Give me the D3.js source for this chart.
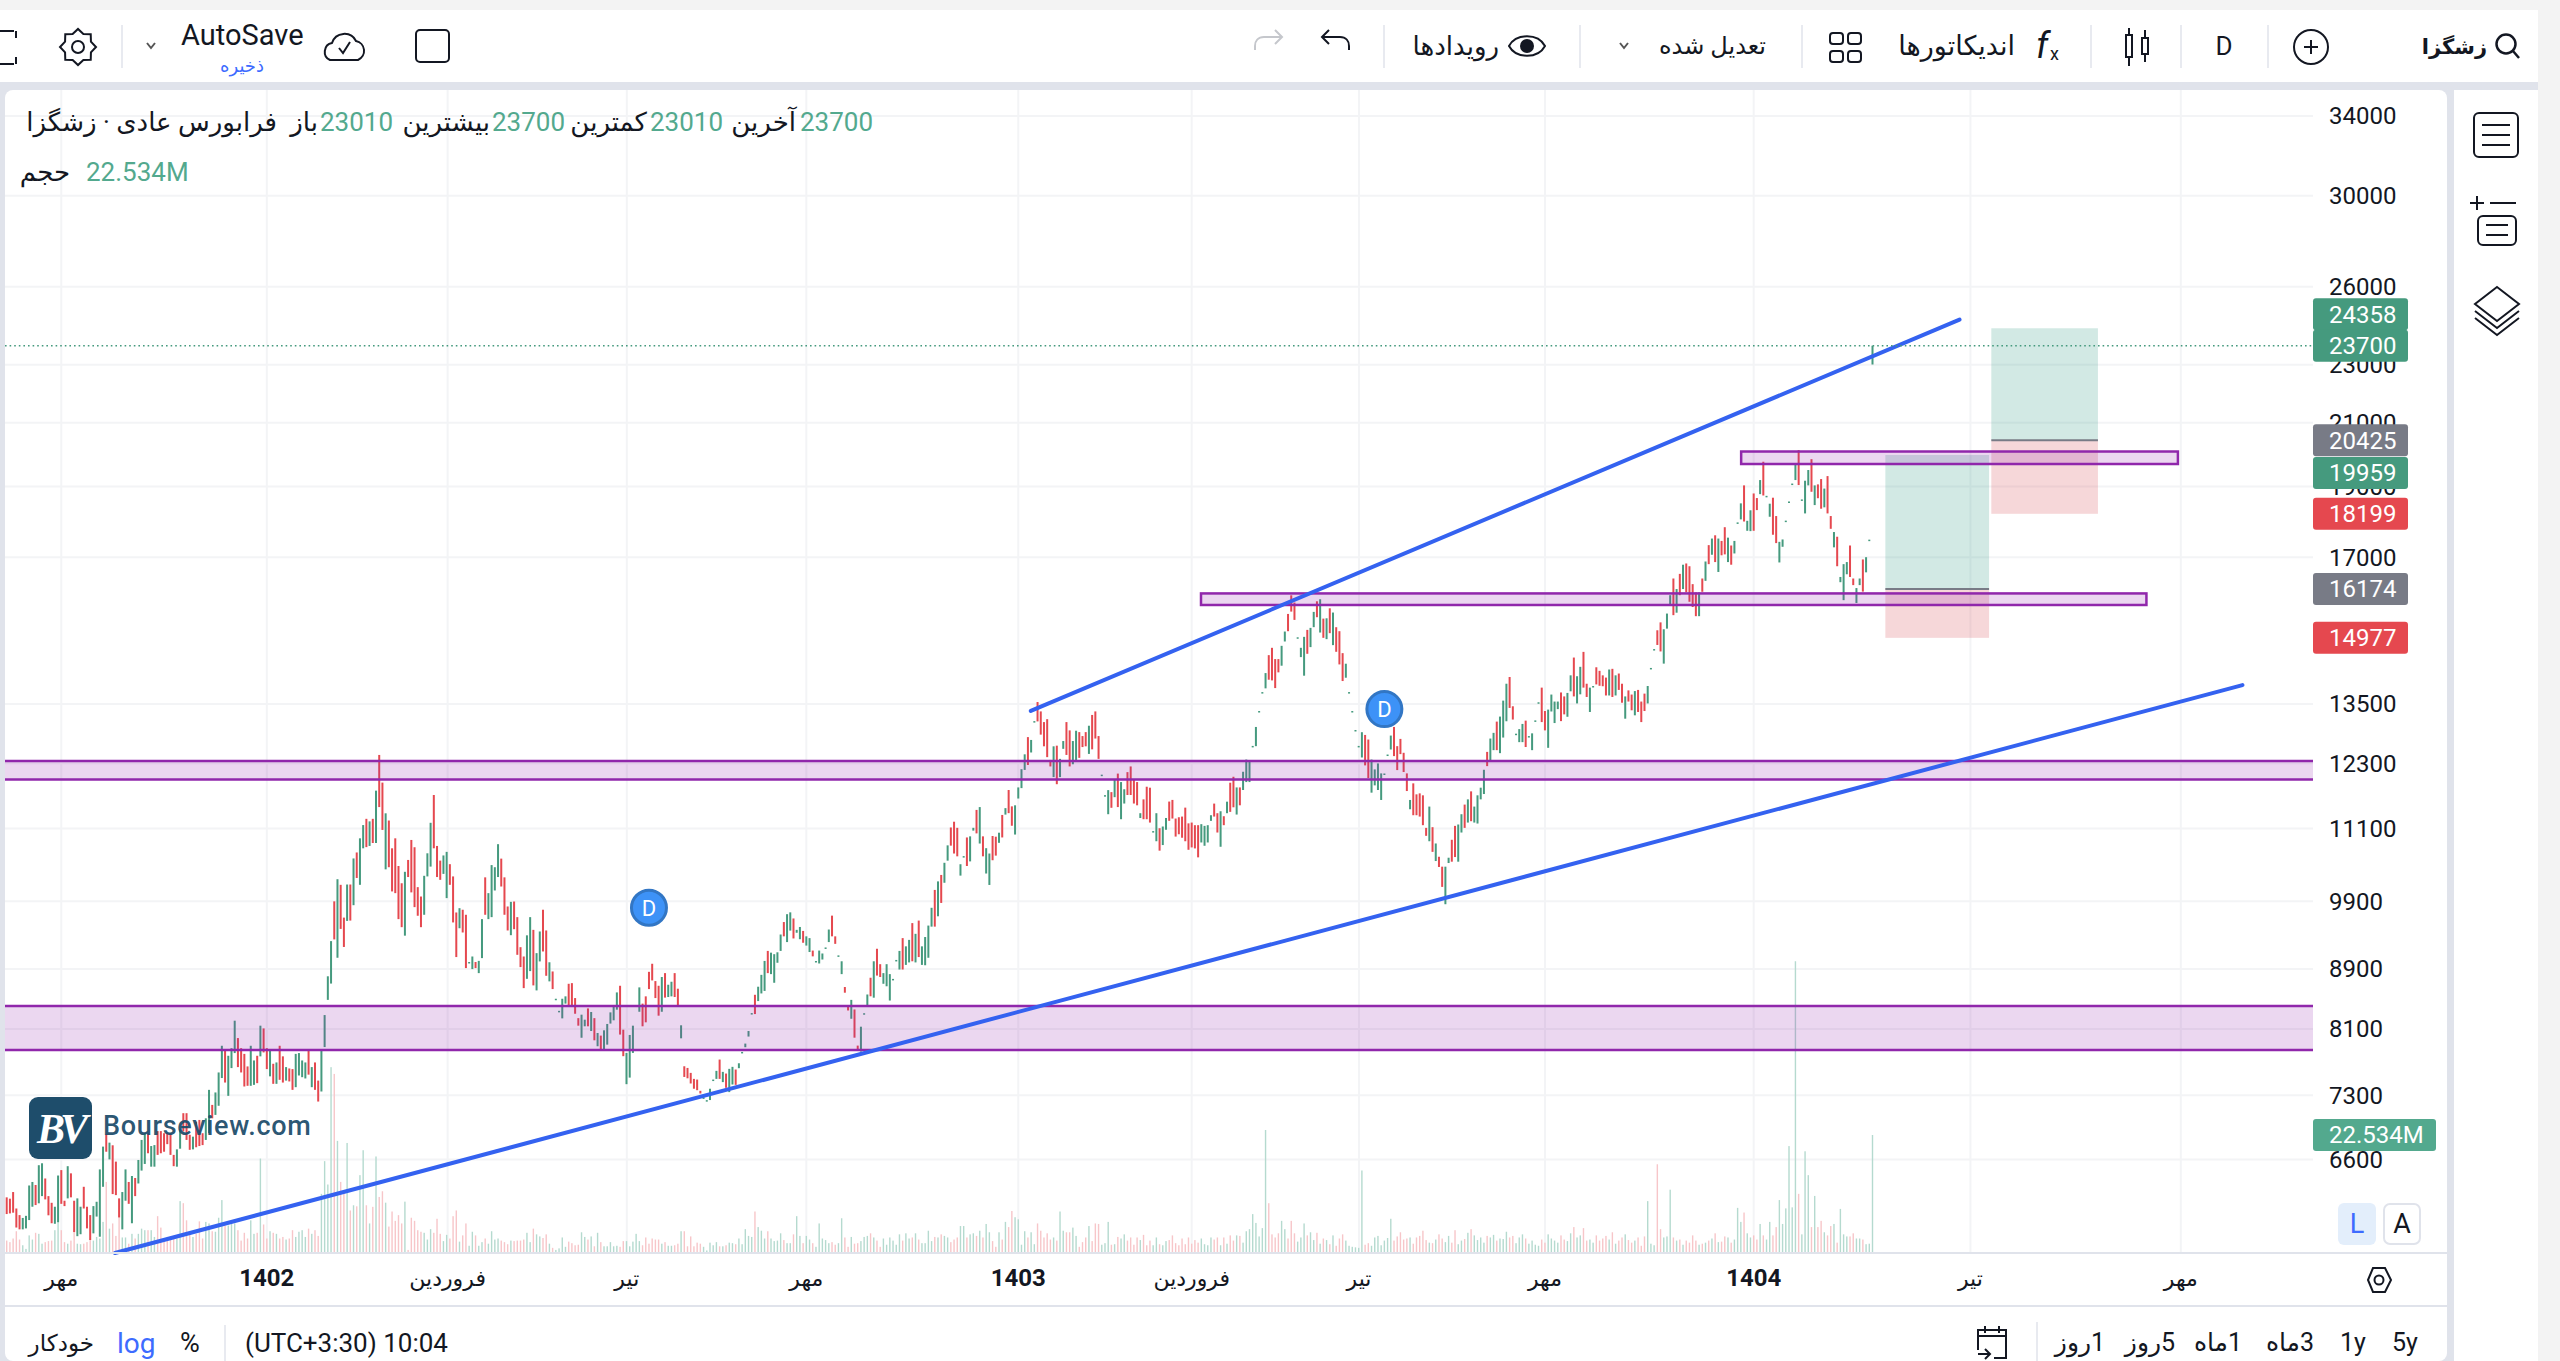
<!DOCTYPE html>
<html lang="fa">
<head>
<meta charset="utf-8">
<title>زشگزا</title>
<script src="https://cdn.jsdelivr.net/npm/d3@7"></script>
<style>
html, body { margin: 0; padding: 0; background: #f3f3f3; overflow: hidden; }
svg { display: block; font-family: Roboto, "DejaVu Sans", sans-serif; }
</style>
</head>
<body>
<svg id="chart" width="2560" height="1361"></svg>
<script>
// daily candles (price in rials, log axis)
const candleHigh = [
  6218,6205,6270,6110,6047,6020,6040,6335,6370,6340,
  6540,6560,6405,6230,6165,6127,6435,6490,6185,6530,
  6457,6185,6208,6127,6322,6127,6047,6133,6175,6497,
  6734,6870,6776,6748,6577,6208,6270,6497,6370,6430,
  6410,6594,6805,6877,6877,6740,6750,6900,6900,6877,
  6877,6877,6647,6705,6920,7097,7097,6860,6840,7004,
  7022,6877,7040,7362,7190,7332,7566,7890,7840,7767,
  7860,8207,7986,7860,7790,7638,7890,7710,7767,8143,
  8108,7860,7832,7670,7686,7890,7760,7630,7614,7606,
  7790,7800,7710,7686,7832,7630,7686,7470,7832,8280,
  8800,9300,9900,10250,10160,9650,10165,10165,10590,10690,
  10930,11160,11270,11225,11270,11780,12460,
  11930,11368,11240,10760,10930,10465,10185,10370,10565,10902,
  10778,10123,9975,10305,10676,11200,11700,10800,10554,10640,
  10700,10495,10295,9728,9794,9770,9693,9000,9078,9000,
  9016,9627,10280,10028,10480,10445,10830,10587,10280,9820,
  9892,9897,9657,9212,9078,9385,9657,9466,9126,9442,
  9770,9457,8996,8867,8495,8335,8495,8527,8697,8706,
  8504,8240,8285,8220,8367,8320,8240,8050,8017,8084,
  8165,8315,8412,8580,8670,8092,7802,8025,8143,8408,
  8648,8430,8527,8862,8975,8734,8670,8790,8844,8684,
  8725,8844,8630,8148,7640,7620,7561,7490,7482,7351,
  7275,7244,7375,7482,7585,7721,7573,7553,7609,7633,
  7601,7676,7814,7917,8075,8306,8548,8657,
  8820,9015,9158,9133,9111,9138,9397,9583,9702,9730,
  9637,9466,9509,9450,9370,9344,9163,9014,9163,9121,
  9208,9471,9680,9370,9094,9010,8653,8386,8480,8353,
  7892,8130,8304,8552,8780,9010,9189,8969,8844,8969,
  8830,8764,9029,9158,9344,9224,9318,9567,9407,9605,
  9224,9360,9530,9800,10079,10215,10319,10518,10810,11118,
  11219,11112,10494,10629,10945,10964,11112,11429,11480,10964,
  10762,10672,10970,10958,11027,11339,11461,11792,11493,11512,
  11840,12184,12472,12814,12757,13140,13540,13342,13120,13180,
  12363,12630,12643,12383,12735,13120,12950,12735,12943,12915,
  12835,12915,13045,13268,13342,12835,12080,11697,11790,11753,
  11994,12100,11940,11806,12128,12237,11994,11940,
  11370,11620,11853,11835,11055,11370,11105,11135,11285,11580,
  11610,11275,11298,11310,11470,11190,11204,11158,11158,11176,
  11146,11158,11334,11543,11370,11405,11316,11578,11928,12040,
  11840,11840,12135,12370,12340,12638,13020,13350,13753,14170,
  14575,14744,14485,14485,14790,15126,15550,16012,15830,14990,
  14744,15000,15165,15213,15600,15862,15912,15436,15444,15688,
  15584,15229,15134,14621,14380,13753,13350,12958,12638,12913,
  12858,12765,12370,12180,12295,12104,12102,12468,12845,13020,
  12633,12778,12502,12104,11609,11916,11712,11730,11694,11111,
  11489,11123,10842,10618,10454,10454,10602,10905,11146,11170,
  11352,11525,11620,11767,11489,11694,11835,12173,12520,12785,
  12900,13130,13234,13570,13935,14083,13450,12883,
  12976,13082,13150,12835,12890,13155,13535,13850,13350,13380,
  13700,13550,13550,13745,13660,13735,14120,14520,14100,14310,
  14650,13935,13850,13885,14300,14220,14120,14070,14250,14265,
  14120,14160,13935,13660,13790,13700,13775,13800,13550,13720,
  13885,14285,14715,15156,15345,15180,15559,16015,16440,16170,
  16560,16800,16833,16760,16295,16085,16085,16440,16885,17325,
  17505,17595,17505,17440,17820,17530,17315,17440,17955,18500,
  19030,18000,18300,18790,18655,19190,19750,18720,18490,18665,
  18135,17415,17480,18005,18555,19085,19670,20115,18615,19170,
  19495,19830,19030,19060,19220,18935,19310,18135,17685,17555,
  16480,16815,16870,17315,16440,16195,16440,16940,17000,17475,
  23700
];
const candleLow = [
  6057,6063,6070,5930,5913,5913,5922,6000,6127,6143,
  6160,6230,6198,6045,5970,5965,5980,6155,6133,6208,
  6218,5888,5850,5868,6110,5922,5815,5876,6033,5845,
  6322,6680,6600,6250,6240,6025,5913,6185,6155,5970,
  6230,6355,6485,6553,6664,6525,6525,6647,6664,6680,
  6760,6647,6530,6525,6712,6895,6805,6700,6705,6727,
  6740,6750,6805,6877,7040,7078,7180,7500,7447,7293,
  7618,7800,7630,7566,7401,7409,7409,7420,7440,7760,
  7808,7606,7520,7432,7432,7479,7447,7470,7460,7362,
  7393,7530,7510,7495,7540,7393,7362,7228,7343,7874,
  8480,8700,9325,9060,9480,9215,9600,9605,9840,10270,
  10160,10760,10780,10800,10850,10850,11480,
  11075,10410,10445,10055,10028,9627,9506,9380,10285,10040,
  9810,9678,9506,9693,10295,10455,10760,10285,10240,10336,
  9950,10160,9577,9070,9490,9427,8914,8990,8900,8914,
  8844,9055,9693,9627,9657,10070,10285,10133,9693,9457,
  9387,9476,9102,8928,8638,8765,8872,8675,8607,9008,
  9150,8807,8730,8625,8485,8325,8237,8430,8412,8412,
  8297,8143,7990,8135,8135,8075,7958,7884,7843,7843,
  7904,8170,8212,8350,8030,7762,7428,7505,7802,8398,
  8323,8135,8186,8625,8743,8504,8272,8323,8510,8518,
  8527,8518,8412,7983,7513,7497,7436,7375,7358,7320,
  7267,7236,7245,7474,7490,7490,7452,7386,7336,7424,
  7420,7617,7806,7872,8005,8298,8293,8464,
  8566,8600,8844,8830,8711,8989,9158,9370,9286,9455,
  9339,9423,9328,9276,9235,9142,9080,9006,8979,9035,
  9200,9286,9370,9260,9086,8830,8576,8340,8232,7991,
  7831,7818,8296,8386,8528,8509,8810,8790,8697,8663,
  8471,8756,9021,8894,8894,8959,8994,9010,8994,9070,
  8959,8954,9060,9514,9514,9670,9875,10193,10553,10805,
  10672,10625,10308,10621,10465,10541,11063,11015,10841,10625,
  10342,10158,10560,10637,10853,10945,11345,11371,11148,10995,
  11635,11827,12170,12265,12508,13128,13134,12864,12630,12417,
  12237,12034,11900,12034,12580,12460,12237,12279,12335,12403,
  12615,12630,12480,12570,12785,12383,12068,11685,11352,11467,
  11660,11480,11263,11544,11700,11700,11544,11512,
  11285,11263,11263,11204,11045,10880,10720,10815,11078,11235,
  11275,10960,11000,10940,10880,10735,10775,10758,10608,10859,
  10803,10859,11234,11310,11030,10786,11158,11370,11394,11476,
  11346,11512,11792,11940,11940,12628,12633,13340,13743,13834,
  14023,14008,13840,14186,14335,14891,15134,15607,15405,14980,
  14530,14112,14606,14760,15230,15470,15102,14977,14946,15087,
  14806,14652,14364,13994,14067,13743,13340,12948,12628,12410,
  12257,12015,11743,11878,11792,11609,12092,12458,12567,12437,
  12167,12476,12130,11773,11441,11334,11334,11310,11158,10973,
  10880,10700,10547,10449,10127,9855,10514,10536,10613,10536,
  11030,11111,11204,11228,11204,11187,11620,11718,12243,12358,
  12554,12554,12495,12805,13137,13415,13172,12873,
  12713,12713,12616,12825,12554,13145,13525,13120,12950,12600,
  13340,13100,13390,13140,13280,13230,13770,13660,13510,13705,
  13850,13648,13330,13875,13920,13890,13880,13680,13680,13648,
  13680,13800,13525,13190,13550,13365,13260,13330,13120,13350,
  13510,14275,14705,14810,14660,14382,15195,15755,15520,15580,
  16015,16170,16090,15850,15720,15495,15495,16100,16380,16815,
  17065,16870,16610,17050,17075,16870,16800,17100,17945,18040,
  17980,17720,17710,17720,18305,18770,18730,18710,18115,17610,
  17380,16860,17280,17995,18545,19075,19190,19040,18605,18210,
  19030,18840,18450,18650,18345,18385,18210,17775,17265,16760,
  16345,15890,16550,16480,16270,15820,16270,16105,16600,17465,
  23010
];
// 1 = closed up (green), 0 = closed down (red)
const candleUp = [
  0,0,0,0,0,1,1,1,1,0, 1,1,0,0,0,1,1,0,0,1, 0,0,1,1,0,0,0,1,1,1,
  1,0,1,0,0,0,1,1,0,1, 0,1,1,1,0,1,1,0,0,0, 0,0,0,1,1,0,0,0,1,0,
  0,0,1,1,0,1,1,1,0,1, 1,1,0,0,0,0,1,1,0,1, 0,0,1,0,1,0,0,1,0,0,
  1,1,1,1,0,1,0,0,1,1, 1,1,0,1,0,0,1,0,1,0, 1,1,0,1,0,1,0,
  0,1,0,0,0,0,0,1,0,0, 0,0,0,1,1,1,0,0,0,1, 1,0,0,0,1,0,0,1,1,0,
  1,1,0,1,1,1,1,0,0,0, 1,0,0,0,0,1,1,0,1,1, 0,0,1,0,1,1,1,1,0,0,
  0,0,1,1,0,1,0,1,0,1, 1,1,1,1,0,0,1,1,1,1, 1,0,0,0,0,0,0,1,0,1,
  1,0,0,1,0,0,0,0,0,0, 1,1,1,1,1,0,1,0,1,1, 0,1,1,1,1,1,0,1,
  1,1,0,1,1,1,1,0,1,1, 0,1,1,0,1,1,0,1,1,1, 1,1,0,0,1,1,0,0,1,0,
  0,1,1,1,0,1,0,0,1,1, 1,1,1,1,0,1,1,0,1,0, 1,1,1,1,0,1,0,1,1,0,
  0,0,1,1,0,1,1,0,1,0, 1,1,0,0,1,0,1,0,0,1, 1,1,1,0,1,1,0,0,0,0,
  0,1,0,1,1,0,0,1,1,0, 0,0,1,0,0,0,1,1,1,0, 1,0,1,1,0,0,0,0,
  1,0,0,0,1,1,0,1,1,0, 0,0,0,0,0,0,0,0,0,1, 1,1,1,0,0,1,0,1,0,0,
  1,0,1,1,1,1,1,1,1,1, 0,0,0,0,1,1,0,0,0,1, 1,1,0,1,1,0,1,0,1,0,
  1,0,0,0,1,1,1,1,1,1, 0,0,1,1,1,1,1,1,1,0, 0,0,0,0,1,0,0,0,0,0,
  1,0,1,0,0,1,1,0,0,1, 1,0,1,0,1,1,1,1,0,1, 1,0,1,1,1,0,0,1,
  1,1,0,1,1,1,1,0,0,1, 1,1,1,0,0,1,1,0,1,1, 0,0,1,1,0,0,0,0,1,0,
  1,0,0,1,0,0,1,0,0,0, 1,1,1,0,0,1,1,1,0,1, 0,1,0,0,0,0,1,0,1,0,
  1,0,1,0,0,1,0,1,1,1, 0,1,1,0,0,1,0,1,1,0, 0,1,1,1,1,1,1,0,1,1,
  1,0,1,0,0,1,0,0,1,0, 1,1,1,0,0,1,1,0,1,1, 1
];
// volume in millions
const volumeM = [
  2.2,1.9,2.6,4.0,2.4,1.3,.6,3.2,2.4,3.7,
  3.5,1.6,1.9,2.1,2.2,4.2,6.1,4.2,1.9,1.6,
  2.2,4.5,1.6,1.5,1.6,1.9,2.6,2.2,2.9,2.6,
  5.8,13.5,4.5,5.5,3.1,7.1,2.8,2.8,1.6,3.5,
  2.6,3.5,4.5,4.2,4.2,4.2,2.9,6.9,4.7,2.2,
  2.9,2.9,2.6,2.6,9.8,9.4,6.1,3.5,2.9,3.5,
  5.9,2.6,5.8,5.5,4.0,3.9,6.6,10,5.1,5.1,
  5.5,5.5,4.2,2.2,3.7,2.6,6.1,3.5,3.7,18,
  5.3,2.6,4.0,3.7,3.5,2.6,2.9,2.4,2.6,4.2,
  2.9,3.9,4.2,2.9,4.5,3.5,4.2,3.1,11.2,17.5,
  13,35.6,34.3,21.4,13.5,11.6,21,8,9,8.8,
  14.8,19.6,9,5.5,8.7,18.4,10.6,
  11.7,9.5,4.9,7.8,6,7.1,5.5,9.7,.4,6.6,
  6,4.2,3.9,3.7,2.4,4.4,3.7,6.4,3.5,2.1,
  3.3,2.6,6.9,8,2,3.2,5.5,1.2,3.9,3.2,
  1.2,1.9,2.6,1.6,4,2.4,2.6,2.2,1.9,1.5,
  2.2,2.1,2.2,2.2,2.4,3.7,1.9,4.5,3.4,3,
  2.7,3.4,1.6,.8,.4,.7,2.8,1,2,1.7,
  1.3,1.4,3.8,2.9,2.4,3,1.1,3.7,1.9,1.1,
  1.1,1.9,1.1,1.2,1,2.1,2.1,1.1,2,3.5,
  2.1,1.3,2.8,1.6,2.6,2.4,2.4,1.6,1.9,1.2,
  1.2,1.3,1.6,4,4,1.1,3,1.1,1.8,1.6,
  1,.3,1.8,1.3,1.9,1.1,1.1,1.3,1.8,1.7,
  1.5,2.6,1.5,4.4,3.1,2.9,7.8,4.8,
  4.1,2.6,4,2.6,2.1,2.2,3.6,2.3,1.7,1.7,
  3.4,6.9,3.1,1.7,3.1,2.4,1.7,1,5.5,2.6,
  2.3,1.7,1.9,1.4,1.7,6.5,2.8,1,2.9,1.6,
  1.7,2.1,2.9,3.1,3.6,2.8,2.2,1,2.6,1.4,
  2.8,2.2,1.4,3.4,2.2,3.6,2.6,2.8,3.6,2.4,
  1.7,1.7,4.1,2.1,2.9,2.8,3.4,3.1,2.8,1.9,
  2.4,2.8,5,5,2.8,3.4,3.6,3.1,4.1,2.8,
  5.4,3.8,2.1,1,3.8,2.4,5.8,4.8,7.9,6.7,
  6.3,1.4,4,2.8,3.8,1.5,5.5,4.1,2.8,3.6,
  2.4,2.8,2.2,7.8,4.1,3.8,3.8,4.7,3.1,1,
  1.9,2.8,5,2.1,5.5,5.4,1.4,1.7,5.8,1.4,
  1.5,2.9,2.6,3.4,2.2,2.8,1.4,2.8,
  2.3,3.3,1.3,2.2,1.3,2.8,1.5,1.3,2.1,2.3,
  3.2,1.7,1.3,2.6,1.5,2.8,1.6,2.3,1.8,2.6,
  1.5,1.3,2.8,2.4,2.8,1.3,2.8,1.6,3.2,2.2,
  3.2,3.1,1.8,4,4.4,7.3,5.6,3,4.6,23.5,
  9.4,3.4,2.8,3.6,6,4.4,2.6,6,3.6,2,
  2.8,5.5,3.2,3.8,2.3,3.7,1.6,2.6,2.3,1.5,
  3.2,1.2,2.6,3.4,2.2,1.2,1,.9,.8,15.7,
  1.4,1.7,1.2,2.8,3.1,1.3,2.2,2.7,6.4,2.2,
  3,3.8,2.4,2.6,2.8,1.6,2.8,3.1,4.1,2.3,
  1.8,1.7,2.4,3.4,2.6,1.9,3.1,1.8,4.2,1.5,
  2.2,2.5,3.7,4.4,3.2,2.3,2.8,1.8,3.1,2.8,
  3.3,2.2,2.6,2.5,3.9,2.8,3.1,1.7,2.8,
  3.4,2.6,1.6,2.2,1.4,1.2,2.4,1.8,3.4,2.6,
  2.2,1.8,3.2,2.4,2.1,3.6,4.8,2.8,3.2,4.6,
  2.2,2.4,1.8,3.2,2.2,2.6,3.1,2.4,3.8,1.6,
  2.2,2.8,3.4,2.3,1.8,2.2,2.8,1.2,3,9.8,
  1.6,1.3,16.9,4.4,2.8,3,12,2.8,2.2,2.4,
  1.4,2.2,1.8,3.2,2.2,1.4,1.6,1.8,2.2,2.6,
  3.6,1.9,2,3,2.8,1.8,2.4,8.5,5.8,7.6,
  3.6,2.8,3.2,2.4,5.4,3.2,2.4,5.8,3.2,4.8,
  10,5.4,8.4,20.4,8.6,56,11.2,3.4,19.4,14.8,
  4.8,10.8,4.8,6,3.8,3.2,5,5.4,1.8,8.3,
  3.4,3,3,3.6,2.6,2.6,2.4,1.5,1.6,22.534
];
const priceTicks = [34000,30000,26000,23000,21000,19000,17000,13500,12300,11100,9900,8900,8100,7300,6600];
const timeTickBars = [17,81,137.3,193.1,249,315,369,421.1,479,544,611.5,677];
const timeTickLabels = ["مهر","1402","فروردین","تیر","مهر","1403","فروردین","تیر","مهر","1404","تیر","مهر"];
const eventBars = [200,429];
const eventPrices = [9800,13390];
const zoneBarsFrom = [null,null,371.9,540.1];
const zoneBarsTo = [null,null,666.3,676.1];
const zoneTops = [12340,8398,16059,20070];
const zoneBottoms = [11990,7838,15770,19680];
const trendBars = [[318.9,608.1],[33.7,696.2]];
const trendPrices = [[13352,24692],[5697,13905]];
const positionBarsFrom = [585,618];
const positionBarsTo = [617.3,651.2];
const positionTargets = [19959,24358];
const positionEntries = [16174,20425];
const positionStops = [14977,18199];
const lastPrice = 23700;
const lastVolume = 22.534;

const GREEN = "#459a7e", RED = "#e5484f", GRAY = "#787b86", INK = "#131722";
const BLUE = "#3462f0", EDGE = "#e0e3eb", GRID = "#f3f4f6", PURPLE = "#9027ab";
const paneRight = 2313, paneBottom = 1253, paneTop = 90, paneLeft = 5;

const svg = d3.select("#chart");

const candles = candleHigh.map((h, i) => ({
    i, h, l: candleLow[i], up: candleUp[i], v: volumeM[i]
}));

const x = d3.scaleLinear().domain([0, 581]).range([6.7, 1872.5]);
const y = d3.scaleLog().domain([34000, 6600]).range([116, 1159.4]);
const yVol = d3.scaleLinear().domain([0, lastVolume]).range([1252, 1135]);

// page frame
svg.append("rect").attr("width", 2560).attr("height", 1361).attr("fill", "#f3f3f3");
svg.append("rect").attr("x", 0).attr("y", 10).attr("width", 2538).attr("height", 1351).attr("fill", EDGE);
svg.append("rect").attr("x", 0).attr("y", 10).attr("width", 2538).attr("height", 72).attr("fill", "#fff");
svg.append("rect").attr("x", paneLeft).attr("y", paneTop).attr("width", 2442).attr("height", 1271).attr("rx", 8).attr("fill", "#fff");
svg.append("rect").attr("x", 2454).attr("y", paneTop).attr("width", 84).attr("height", 1271).attr("fill", "#fff");

// grid
svg.append("g").selectAll("line").data(priceTicks).join("line")
    .attr("x1", paneLeft).attr("x2", paneRight)
    .attr("y1", d => y(d)).attr("y2", d => y(d))
    .attr("stroke", GRID).attr("stroke-width", 2);
svg.append("g").selectAll("line").data(timeTickBars).join("line")
    .attr("x1", d => x(d)).attr("x2", d => x(d))
    .attr("y1", paneTop).attr("y2", paneBottom)
    .attr("stroke", GRID).attr("stroke-width", 2);

// volume
svg.append("g").selectAll("rect").data(candles).join("rect")
    .attr("x", d => x(d.i) - 0.7).attr("width", 1.4)
    .attr("y", d => yVol(d.v)).attr("height", d => yVol(0) - yVol(d.v))
    .attr("fill", d => d.up ? "#b5dacf" : "#f7c6c9");

// position boxes
positionTargets.forEach((t, k) => {
    const bx = x(positionBarsFrom[k]), bw = x(positionBarsTo[k]) - bx;
    svg.append("rect").attr("x", bx).attr("width", bw).attr("y", y(t))
        .attr("height", y(positionEntries[k]) - y(t)).attr("fill", "#3d9f8c").attr("fill-opacity", 0.23);
    svg.append("rect").attr("x", bx).attr("width", bw).attr("y", y(positionEntries[k]))
        .attr("height", y(positionStops[k]) - y(positionEntries[k])).attr("fill", "#d9505a").attr("fill-opacity", 0.23);
    svg.append("line").attr("x1", bx).attr("x2", bx + bw)
        .attr("y1", y(positionEntries[k])).attr("y2", y(positionEntries[k]))
        .attr("stroke", GRAY).attr("stroke-width", 2);
});

// candles, bodies fill almost the whole range at this zoom
svg.append("g").selectAll("rect").data(candles).join("rect")
    .attr("x", d => x(d.i) - 1).attr("width", 2)
    .attr("y", d => y(d.h))
    .attr("height", d => Math.max(1.5, y(d.l) - y(d.h)))
    .attr("fill", d => d.up ? GREEN : RED);

// supply / demand zones
zoneTops.forEach((t, k) => {
    const x0 = zoneBarsFrom[k] === null ? paneLeft : x(zoneBarsFrom[k]);
    const x1 = zoneBarsTo[k] === null ? paneRight : x(zoneBarsTo[k]);
    svg.append("rect").attr("x", x0).attr("width", x1 - x0)
        .attr("y", y(t)).attr("height", y(zoneBottoms[k]) - y(t))
        .attr("fill", "rgba(142,36,170,.18)");
    if (zoneBarsFrom[k] === null) {
        [t, zoneBottoms[k]].forEach(p => {
            svg.append("line").attr("x1", x0).attr("x2", x1).attr("y1", y(p)).attr("y2", y(p))
                .attr("stroke", PURPLE).attr("stroke-width", 2.5);
        });
    } else {
        svg.append("rect").attr("x", x0).attr("width", x1 - x0)
            .attr("y", y(t)).attr("height", y(zoneBottoms[k]) - y(t))
            .attr("fill", "none").attr("stroke", PURPLE).attr("stroke-width", 2.5);
    }
});

// trend lines
trendBars.forEach((b, k) => {
    svg.append("line")
        .attr("x1", x(b[0])).attr("x2", x(b[1]))
        .attr("y1", y(trendPrices[k][0])).attr("y2", y(trendPrices[k][1]))
        .attr("stroke", BLUE).attr("stroke-width", 4).attr("stroke-linecap", "round");
});

// last price dotted
svg.append("line").attr("x1", paneLeft).attr("x2", paneRight)
    .attr("y1", y(lastPrice)).attr("y2", y(lastPrice))
    .attr("stroke", GREEN).attr("stroke-width", 1.6).attr("stroke-dasharray", "1.6 3");

// dividend markers
const markers = svg.append("g").selectAll("g").data(eventBars).join("g")
    .attr("transform", (d, i) => `translate(${x(d)},${y(eventPrices[i])})`);
markers.append("circle").attr("r", 17.5).attr("fill", "#3d92f7").attr("stroke", "#3276c4").attr("stroke-width", 3);
markers.append("text").text("D").attr("text-anchor", "middle").attr("dy", 8)
    .attr("font-size", 22).attr("fill", "#fff");

// logo
const logo = svg.append("g");
logo.append("rect").attr("x", 29).attr("y", 1097).attr("width", 63).attr("height", 62).attr("rx", 9).attr("fill", "#1e4d6b");
logo.append("text").text("BV").attr("x", 60).attr("y", 1143).attr("text-anchor", "middle")
    .attr("font-family", "'Liberation Serif', serif")
    .attr("font-size", 42).attr("font-weight", 700).attr("font-style", "italic")
    .attr("letter-spacing", -5).attr("fill", "#fff");
logo.append("text").text("Bourseview.com").attr("x", 103).attr("y", 1135)
    .attr("font-size", 27).attr("font-weight", 500).attr("letter-spacing", 0.7).attr("fill", "#1e4d6b").attr("fill-opacity", 0.95);

function label(s, px, py, size, color, anchor, weight) {
    return svg.append("text").text(s).attr("x", px).attr("y", py)
        .attr("dy", "0.35em").attr("font-size", size).attr("fill", color || INK)
        .attr("text-anchor", anchor || "start").attr("font-weight", weight || 400);
}

// price axis labels and tags
svg.append("g").selectAll("text").data(priceTicks).join("text")
    .text(d => d).attr("x", 2329).attr("y", d => y(d)).attr("dy", "0.35em")
    .attr("font-size", 24).attr("fill", INK);

const priceTags = [24358, 23700, 20425, 19959, 18199, 16174, 14977];
const tagColors = [GREEN, GREEN, GRAY, GREEN, RED, GRAY, RED];
const tagNudge = {24358: -14, 19959: 18};
priceTags.forEach((p, k) => {
    const ty = y(p) + (tagNudge[p] || 0);
    svg.append("rect").attr("x", paneRight).attr("y", ty - 16).attr("width", 95).attr("height", 32)
        .attr("rx", 3).attr("fill", tagColors[k]);
    label(p, 2329, ty, 24, "#fff");
});
svg.append("rect").attr("x", paneRight).attr("y", yVol(lastVolume) - 16).attr("width", 123).attr("height", 32)
    .attr("rx", 3).attr("fill", "#53a98e");
label(lastVolume + "M", 2329, yVol(lastVolume), 24, "#fff");

// L / A
svg.append("rect").attr("x", 2338).attr("y", 1203).attr("width", 38).attr("height", 42).attr("rx", 6).attr("fill", "#e3eefb");
label("L", 2357, 1224, 27, "#3d6bff", "middle");
svg.append("rect").attr("x", 2384).attr("y", 1204).attr("width", 36).attr("height", 40).attr("rx", 6).attr("fill", "#fff").attr("stroke", EDGE).attr("stroke-width", 2);
label("A", 2402, 1224, 27, INK, "middle");

// time axis
svg.append("line").attr("x1", paneLeft).attr("x2", 2447).attr("y1", paneBottom).attr("y2", paneBottom).attr("stroke", EDGE).attr("stroke-width", 2);
svg.append("line").attr("x1", paneLeft).attr("x2", 2447).attr("y1", 1306).attr("y2", 1306).attr("stroke", EDGE).attr("stroke-width", 2);
svg.append("g").selectAll("text").data(timeTickBars).join("text")
    .text((d, i) => timeTickLabels[i]).attr("x", d => x(d)).attr("y", 1278).attr("dy", "0.35em")
    .attr("text-anchor", "middle").attr("font-size", (d, i) => /^\d+$/.test(timeTickLabels[i]) ? 24 : 22)
    .attr("font-weight", (d, i) => /^\d+$/.test(timeTickLabels[i]) ? 700 : 400)
    .attr("fill", INK);

// legend lines
const headerPieces = [
    ["23700", 800, GREEN, "start"], ["آخرین", 796, INK, "end"],
    ["23010", 650, GREEN, "start"], ["کمترین", 647, INK, "end"],
    ["23700", 492, GREEN, "start"], ["بیشترین", 490, INK, "end"],
    ["23010", 320, GREEN, "start"], ["باز", 318, INK, "end"],
    ["فرابورس عادی · زشگزا", 277, INK, "end"]
];
headerPieces.forEach(p => {
    const isNum = /^\d/.test(p[0]);
    label(p[0], p[1], 122, isNum ? 26 : 26, p[2] === GREEN ? "#53a98e" : p[2], p[3]);
});
label("حجم", 70, 172, 26, INK, "end");
label("22.534M", 86, 172, 26, "#53a98e");

// top toolbar
[122, 1384, 1580, 1802, 2091, 2181, 2268].forEach(sx => {
    svg.append("line").attr("x1", sx).attr("x2", sx).attr("y1", 25).attr("y2", 68).attr("stroke", EDGE).attr("stroke-width", 1.5);
});
label("AutoSave", 181, 35, 29, INK);
label("ذخیره", 242, 66, 18, "#3d6bff", "middle");
label("رویدادها", 1499, 46, 26, INK, "end");
label("تعدیل شده", 1766, 46, 24, INK, "end");
label("اندیکاتورها", 2015, 46, 27, INK, "end");
label("D", 2224, 46, 26, INK, "middle");
label("زشگزا", 2487, 47, 21, INK, "end", 700);

const stroke = sel => sel.attr("fill", "none").attr("stroke", INK).attr("stroke-width", 2);
const path = (d, color) => svg.append("path").attr("d", d).call(stroke).attr("stroke", color || INK);

// fullscreen corner marks
path("M0 31H14M0 64H14M16 31V38M16 57V64");
// settings gear
svg.append("circle").attr("cx", 78).attr("cy", 47).attr("r", 6).call(stroke);
svg.append("path").attr("d", d3.range(0, 16).map(k => {
    const a = k / 16 * 2 * Math.PI, r = k % 2 ? 14 : 18;
    return (k ? "L" : "M") + (78 + r * Math.cos(a)) + " " + (47 + r * Math.sin(a));
}).join("") + "Z").call(stroke);
path("M147 43L151 48L155 43", "#555");
// cloud
path("M330 60A9 9 0 0 1 332 43A13 13 0 0 1 356 41A10 10 0 0 1 358 60Z");
path("M339 48L343 53L350 42");
svg.append("rect").attr("x", 416).attr("y", 30).attr("width", 33).attr("height", 32).attr("rx", 4).call(stroke);
// redo / undo
path("M1275 30L1282 37L1275 44M1282 37H1264C1258 37 1255 41 1255 46V50", "#c5c7cc");
path("M1329 30L1322 37L1329 44M1322 37H1340C1346 37 1349 41 1349 46V50");
// eye
path("M1509 46C1516 33 1538 33 1545 46C1538 59 1516 59 1509 46Z");
svg.append("circle").attr("cx", 1527).attr("cy", 46).attr("r", 7).attr("fill", INK);
path("M1620 43L1624 48L1628 43", "#555");
// layouts
[[1830, 33], [1848, 33], [1830, 51], [1848, 51]].forEach(s => {
    svg.append("rect").attr("x", s[0]).attr("y", s[1]).attr("width", 13).attr("height", 11).attr("rx", 3).call(stroke);
});
// indicators
svg.append("text").text("f").attr("x", 2036).attr("y", 58).attr("font-size", 36).attr("font-style", "italic").attr("fill", INK);
svg.append("text").text("x").attr("x", 2050).attr("y", 60).attr("font-size", 18).attr("fill", INK);
// candle icon
path("M2129 28V66M2145 30V62");
svg.append("rect").attr("x", 2126).attr("y", 35).attr("width", 6).attr("height", 22).attr("fill", "#fff").attr("stroke", INK).attr("stroke-width", 2);
svg.append("rect").attr("x", 2142).attr("y", 38).attr("width", 6).attr("height", 16).attr("fill", "#fff").attr("stroke", INK).attr("stroke-width", 2);
// add symbol
svg.append("circle").attr("cx", 2311).attr("cy", 47).attr("r", 17).call(stroke);
path("M2304 47H2318M2311 40V54");
// search
svg.append("circle").attr("cx", 2506).attr("cy", 44).attr("r", 9.5).call(stroke).attr("stroke-width", 2.5);
path("M2513 51L2519 58").attr("stroke-width", 2.5);

// right sidebar
svg.append("rect").attr("x", 2474).attr("y", 113).attr("width", 44).attr("height", 44).attr("rx", 5).call(stroke);
path("M2482 125H2510M2482 135H2510M2482 145H2510");
path("M2470 203H2484M2477 196V210");
svg.append("rect").attr("x", 2478).attr("y", 216).attr("width", 38).attr("height", 29).attr("rx", 5).call(stroke);
path("M2490 203H2516M2486 225H2508M2486 235H2508");
path("M2497 287L2519 304L2497 321L2475 304ZM2475 311L2497 328L2519 311M2475 318L2497 335L2519 318");

// bottom bar
label("خودکار", 94, 1343, 23, INK, "end");
label("log", 117, 1343, 28, "#3d6bff");
label("%", 180, 1343, 27, INK);
svg.append("line").attr("x1", 225).attr("x2", 225).attr("y1", 1325).attr("y2", 1361).attr("stroke", EDGE).attr("stroke-width", 1.5);
label("(UTC+3:30) 10:04", 245, 1343, 26, INK);

const rangeButtons = ["5y", "1y", "3ماه", "1ماه", "5روز", "1روز"];
const rangeCentres = [2405, 2353, 2290, 2218, 2150, 2080];
rangeButtons.forEach((r, k) => {
    label(r, rangeCentres[k], 1342, 25, INK, "middle").style("direction", /y$/.test(r) ? "ltr" : "rtl");
});
svg.append("line").attr("x1", 2037).attr("x2", 2037).attr("y1", 1322).attr("y2", 1361).attr("stroke", EDGE).attr("stroke-width", 1.5);
path("M1978 1336H2006M1978 1350V1330H2006V1358H1994M1985 1326V1333M1999 1326V1333M1978 1354H1990M1985 1349L1990 1354L1985 1359");

// scale settings hexagon
path("M2368 1280L2373 1268H2385L2391 1280L2385 1292H2373Z");
svg.append("circle").attr("cx", 2379).attr("cy", 1280).attr("r", 4.5).call(stroke);
</script>
</body>
</html>
